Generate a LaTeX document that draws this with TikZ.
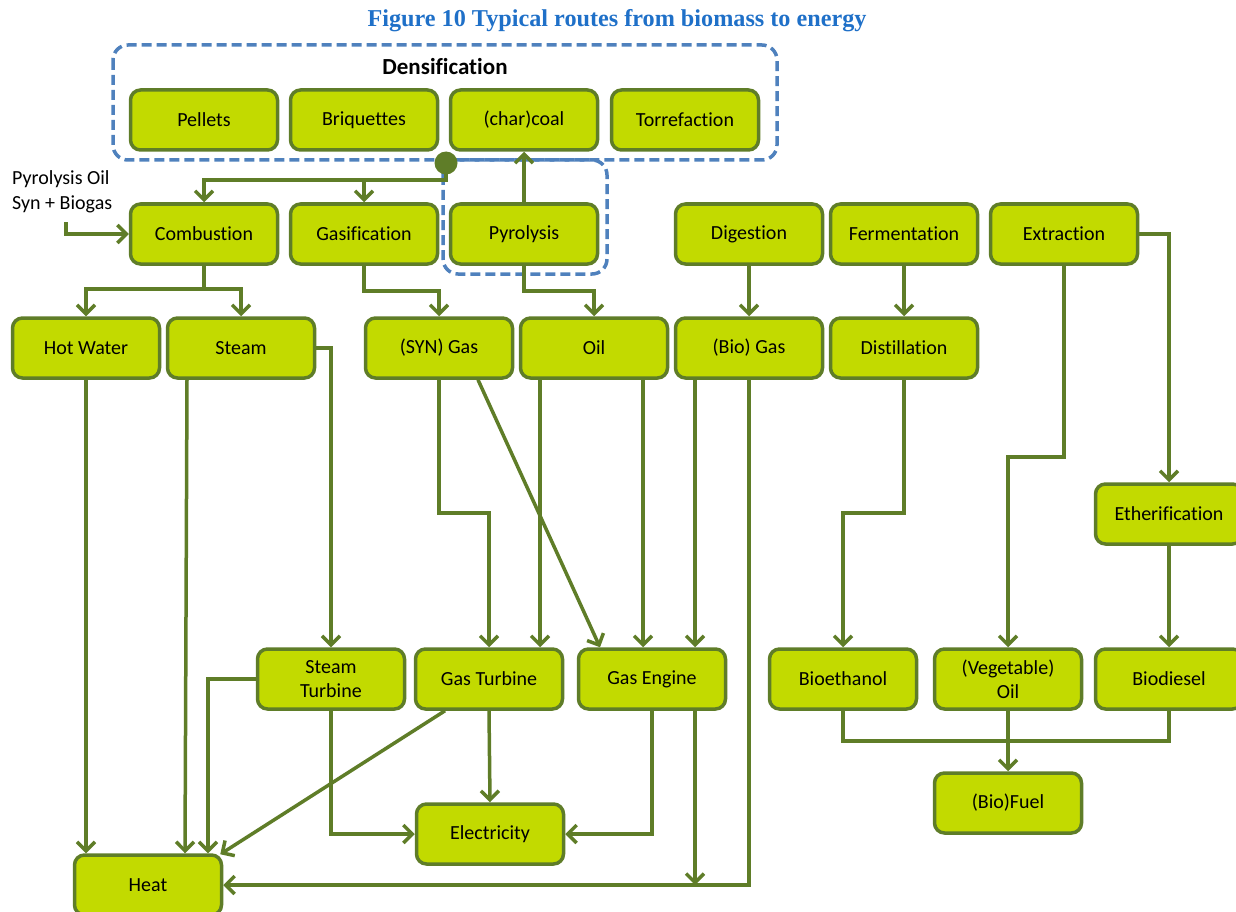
\documentclass[tikz,border=0pt]{standalone}
\usepackage{fontspec}
\setmainfont{Carlito}[Ligatures={NoCommon}]
\newfontfamily\titlefont{Liberation Serif}
\usetikzlibrary{arrows.meta,calc}
\definecolor{boxfill}{RGB}{194,218,0}
\definecolor{bord}{RGB}{95,125,40}
\definecolor{lineg}{RGB}{95,125,40}
\definecolor{dblue}{RGB}{79,129,189}
\definecolor{tblue}{RGB}{31,112,200}
\begin{document}
\begin{tikzpicture}[x=1pt,y=-1pt,
 box/.style={draw=bord, fill=boxfill, line width=3.5pt, rounded corners=10pt, minimum width=147pt, minimum height=60pt, inner sep=0pt, align=center, font=\fontsize{20}{24}\selectfont},
 arr/.style={draw=lineg, line width=3.5pt, -{Straight Barb[length=9pt,width=18pt]}},
 ln/.style={draw=lineg, line width=3.5pt},
 dbox/.style={draw=dblue, line width=3.5pt, dash pattern=on 10pt off 5pt, rounded corners=15pt}]
\useasboundingbox (0,0) rectangle (1236,912);
\clip (0,0) rectangle (1236,912);

% title
\node[font=\titlefont\bfseries\fontsize{24.2}{28}\selectfont, text=tblue] (title) at (617,21) {Figure 10 Typical routes from biomass to energy};

% dashed groups
\draw[dbox] (113,45) rectangle (777,160);
\draw[dbox] (443,160) rectangle (607,274);
\node[font=\bfseries\fontsize{23}{27}\selectfont] (dens) at (445,67) {Densification};

% boxes
\node[box] (pel) at (204,120) {Pellets};
\node[box] (bri) at (364,120) {Briquettes};
\node[box] (coal) at (524,120) {(char)coal};
\node[box] (torr) at (685,120) {Torrefaction};

\node[box] (comb) at (204,234) {Combustion};
\node[box] (gasif) at (364,234) {Gasification};
\node[box] (pyro) at (524,234) {Pyrolysis};
\node[box] (dig) at (749,234) {Digestion};
\node[box] (ferm) at (904,234) {Fermentation};
\node[box] (extr) at (1064,234) {Extraction};

\node[box] (hotw) at (86,348) {Hot Water};
\node[box] (steam) at (241,348) {Steam};
\node[box] (syn) at (439,348) {(SYN) Gas};
\node[box] (oil) at (594,348) {Oil};
\node[box] (biogas) at (749,348) {(Bio) Gas};
\node[box] (dist) at (904,348) {Distillation};

\node[box] (ether) at (1169,514) {Etherification};

\node[box] (sturb) at (331,679) {Steam\\Turbine};
\node[box] (gturb) at (489,679) {Gas Turbine};
\node[box] (geng) at (652,679) {Gas Engine};
\node[box] (bioeth) at (843,679) {Bioethanol};
\node[box] (vegoil) at (1008,679) {(Vegetable)\\Oil};
\node[box] (biod) at (1169,679) {Biodiesel};

\node[box] (elec) at (490,834) {Electricity};
\node[box] (fuel) at (1008,803) {(Bio)Fuel};
\node[box] (heat) at (148,885) {Heat};

% input label
\node[anchor=west, align=left, font=\fontsize{20}{25}\selectfont, inner sep=0pt] (inlbl) at (12,192) {Pyrolysis Oil\\Syn + Biogas};

% junction dot and coordinates
\node[circle, fill=lineg, minimum size=23pt, inner sep=0pt] (dot) at (446,163) {};
\coordinate (j1) at (446,180);
\coordinate (in) at (66,222);
\coordinate (j2) at (204,289);

% connectors
\draw[arr] (dot.center) -- (j1) -| (comb.north);
\draw[arr] (gasif.north |- j1) -- (gasif.north);
\draw[arr] (pyro.north) -- (coal.south);
\draw[arr] (in) |- (comb.west);
\draw[ln] (comb.south) -- (j2);
\draw[arr] (j2) -| (hotw.north);
\draw[arr] (j2) -| (steam.north);
\draw[arr] (gasif.south) -- ++(0,25) -| (syn.north);
\draw[arr] (pyro.south) -- ++(0,25) -| (oil.north);
\draw[arr] (dig.south) -- (biogas.north);
\draw[arr] (ferm.south) -- (dist.north);
\draw[arr] (extr.east) -| (ether.north);
\draw[arr] (extr.south) -- ++(0,191) -| (vegoil.north);
\draw[arr] (ether.south) -- (biod.north);
\draw[arr] (dist.south) -- ++(0,133) -| (bioeth.north);

\draw[arr] (hotw.south) -- (hotw.south |- heat.north);
\draw[arr] ([xshift=-54pt]steam.south) -- ([xshift=-56pt]steam.south |- heat.north);
\draw[arr] (steam.east) -| (sturb.north);
\draw[arr] (sturb.west) -| ([xshift=60pt]heat.north);
\draw[arr] ([xshift=-44pt]gturb.south) -- ([xshift=-3pt,yshift=-1pt]heat.north east);
\draw[arr] (sturb.south) |- (elec.west);
\draw[arr] (gturb.south) -- (elec.north);
\draw[arr] (geng.south) |- (elec.east);
\draw[arr] ([xshift=43pt]geng.south) -- ([xshift=43pt]geng.south |- heat.east);
\draw[arr] (biogas.south) |- (heat.east);

\draw[arr] (syn.south) -- ++(0,133) -| (gturb.north);
\draw[arr] ([xshift=39pt]syn.south) -- ([xshift=-52pt]geng.north);
\draw[arr] ([xshift=-54pt]oil.south) -- ([xshift=-54pt]oil.south |- gturb.north);
\draw[arr] ([xshift=49pt]oil.south) -- ([xshift=49pt]oil.south |- geng.north);
\draw[arr] ([xshift=-54pt]biogas.south) -- ([xshift=-54pt]biogas.south |- geng.north);

\draw[ln] (bioeth.south) -- ++(0,30) -| (biod.south);
\draw[arr] (vegoil.south) -- (fuel.north);
\end{tikzpicture}
\end{document}
